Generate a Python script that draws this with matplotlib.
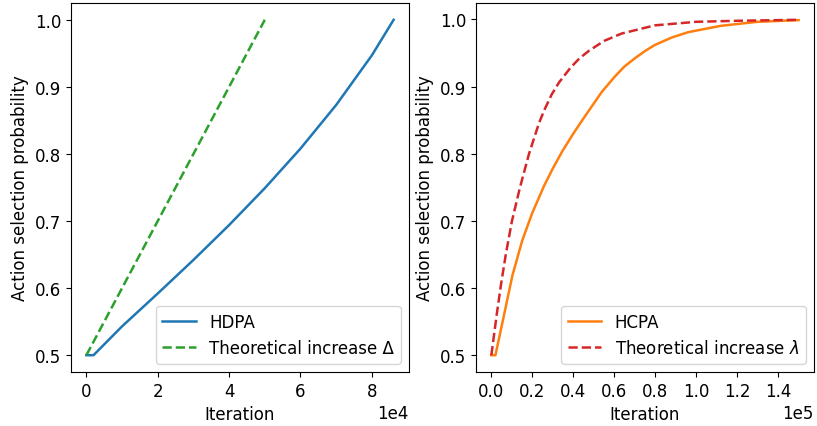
import matplotlib
matplotlib.use("Agg")
import matplotlib.pyplot as plt
from matplotlib.ticker import MultipleLocator

plt.rcParams["font.size"] = 12
plt.rcParams["lines.linewidth"] = 1.8

# Left panel data
hdpa_x = [0, 2000, 10000, 20000, 30000, 40000, 50000, 60000, 70000, 80000, 86100]
hdpa_y = [0.5, 0.5, 0.543, 0.592, 0.642, 0.694, 0.749, 0.808, 0.873, 0.947, 1.0]
delta_x = [0, 50000]
delta_y = [0.5, 1.0]

# Right panel data
hcpa_x = [0, 2000, 5500, 10300, 15200, 20000, 25700, 30000, 34500, 40000, 43500,
          48000, 53900, 60000, 65000, 70000, 75000, 79800, 88000, 96000, 112000, 130000, 150000]
hcpa_y = [0.5, 0.5, 0.550, 0.619, 0.672, 0.712, 0.752, 0.778, 0.803, 0.830, 0.846,
          0.866, 0.892, 0.914, 0.930, 0.942, 0.953, 0.962, 0.973, 0.981, 0.9905, 0.9965, 0.999]
lam_x = [0, 2600, 4700, 7100, 10000, 13900, 18400, 23300, 26000, 29400, 33000,
         38600, 43000, 47500, 55000, 63600, 79800, 100000, 120000, 150000]
lam_y = [0.5, 0.56, 0.605, 0.651, 0.699, 0.749, 0.800, 0.846, 0.866, 0.888, 0.906,
         0.928, 0.942, 0.953, 0.968, 0.979, 0.9912, 0.9965, 0.998, 0.9995]

fig = plt.figure(figsize=(8.17, 4.27), dpi=100)
ax1 = fig.add_axes([0.0869, 0.1265, 0.4137, 0.8641])
ax2 = fig.add_axes([0.5826, 0.1265, 0.4137, 0.8641])

ax1.plot(hdpa_x, hdpa_y, color="tab:blue", label="HDPA")
ax1.plot(delta_x, delta_y, color="tab:green", linestyle="--", label="Theoretical increase Δ")
ax1.set_xlabel("Iteration")
ax1.set_ylabel("Action selection probability")
ax1.ticklabel_format(axis="x", style="sci", scilimits=(0, 0))
ax1.xaxis.set_major_locator(MultipleLocator(20000))
ax1.legend(loc="lower right")

ax2.plot(hcpa_x, hcpa_y, color="tab:orange", label="HCPA")
ax2.plot(lam_x, lam_y, color="tab:red", linestyle="--", label="Theoretical increase $\\lambda$")
ax2.set_xlabel("Iteration")
ax2.set_ylabel("Action selection probability")
ax2.ticklabel_format(axis="x", style="sci", scilimits=(0, 0))
ax2.xaxis.set_major_locator(MultipleLocator(20000))
ax2.legend(loc="lower right")

fig.savefig("out.png", dpi=100)
